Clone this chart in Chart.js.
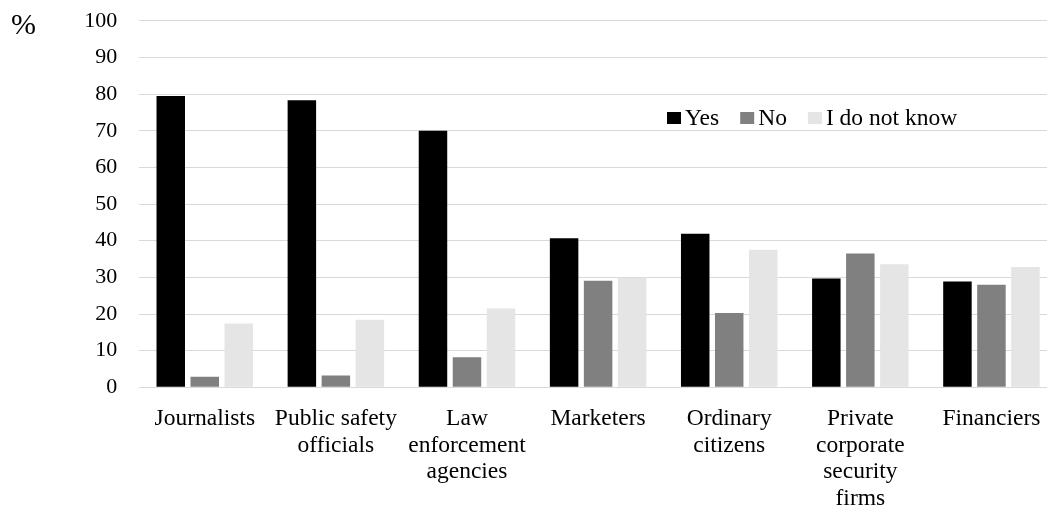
<!DOCTYPE html>
<html>
<head>
<meta charset="utf-8">
<script src="https://cdn.jsdelivr.net/npm/chart.js@4/dist/chart.umd.min.js"></script>
<style>
  html, body { margin: 0; padding: 0; background: #fff; overflow: hidden; }
  #wrap { position: relative; width: 1057px; height: 508px; }
</style>
</head>
<body>
<div id="wrap"><canvas id="c"></canvas></div>
<script>
const categories = [
  "Journalists",
  ["Public safety", "officials"],
  ["Law", "enforcement", "agencies"],
  "Marketers",
  ["Ordinary", "citizens"],
  ["Private", "corporate", "security", "firms"],
  "Financiers"
];
const seriesNames = ["Yes", "No", "I do not know"];
const yesValues = [79.5, 78.3, 70.0, 40.7, 41.9, 29.7, 28.9];
const noValues = [2.9, 3.2, 8.2, 29.1, 20.3, 36.5, 28.0];
const dontKnowValues = [17.4, 18.4, 21.5, 29.9, 37.5, 33.6, 32.8];
const seriesColors = ["#000000", "#808080", "#e5e5e5"];
const yTicks = [0, 10, 20, 30, 40, 50, 60, 70, 80, 90, 100];
const unitLabel = "%";

const FONT = "'Liberation Serif', 'Times New Roman', serif";

const extras = {
  id: 'extras',
  afterDraw(chart) {
    const ctx = chart.ctx;
    ctx.save();
    // unit label
    ctx.fillStyle = '#000';
    ctx.font = '30px ' + FONT;
    ctx.textAlign = 'left';
    ctx.textBaseline = 'alphabetic';
    ctx.fillText(unitLabel, 11, 34);
    // legend
    ctx.font = '23.5px ' + FONT;
    let x = 667;
    const base = 125;
    chart.data.datasets.forEach((ds) => {
      ctx.fillStyle = ds.backgroundColor;
      ctx.fillRect(x, 112, 14, 12);
      x += 18;
      ctx.fillStyle = '#000';
      ctx.fillText(ds.label, x, base);
      x += ctx.measureText(ds.label).width + 21;
    });
    ctx.restore();
  }
};

new Chart(document.getElementById('c'), {
  type: 'bar',
  data: {
    labels: categories,
    datasets: [
      { label: seriesNames[0], data: yesValues, backgroundColor: seriesColors[0] },
      { label: seriesNames[1], data: noValues, backgroundColor: seriesColors[1] },
      { label: seriesNames[2], data: dontKnowValues, backgroundColor: seriesColors[2] }
    ]
  },
  options: {
    responsive: true,
    maintainAspectRatio: false,
    animation: false,
    devicePixelRatio: 1,
    layout: { padding: { top: 20.8, right: 0, bottom: 0, left: 0 } },
    datasets: { bar: { categoryPercentage: 0.778, barPercentage: 0.838 } },
    plugins: {
      legend: { display: false },
      tooltip: { enabled: false }
    },
    scales: {
      x: {
        grid: { display: false },
        border: { display: true, color: '#d9d9d9', width: 1 },
        ticks: {
          color: '#000',
          font: { family: FONT, size: 23.5, lineHeight: 1.14 },
          padding: 10,
          maxRotation: 0,
          autoSkip: false
        },
        afterFit(scale) { scale.height = 120.7; }
      },
      y: {
        min: 0,
        max: 100,
        afterBuildTicks(scale) { scale.ticks = yTicks.map(v => ({ value: v })); },
        grid: { color: '#d9d9d9', lineWidth: 1, drawTicks: false },
        border: { display: false },
        ticks: {
          color: '#000',
          font: { family: FONT, size: 22 },
          padding: 22
        },
        afterFit(scale) {
          scale.width = 139.2;
          scale.paddingTop = 0;
          scale.paddingBottom = 0;
        }
      }
    }
  },
  plugins: [extras]
});
</script>
</body>
</html>
